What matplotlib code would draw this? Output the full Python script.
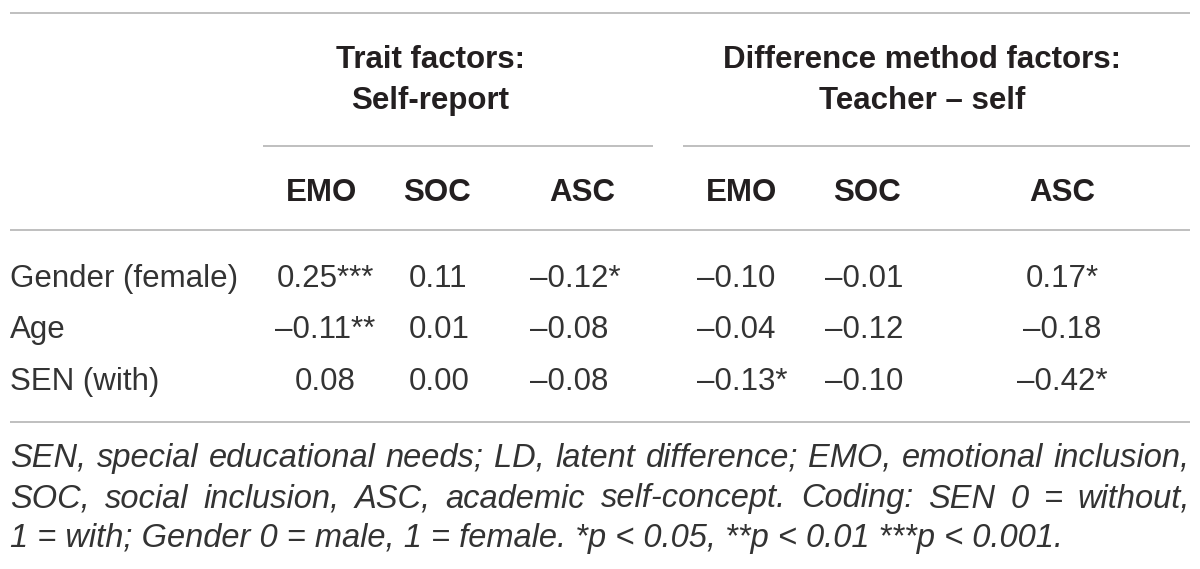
import matplotlib.pyplot as plt

# table content
groups = ["Trait factors:\nSelf-report", "Difference method factors:\nTeacher \u2013 self"]
columns = ["EMO", "SOC", "ASC", "EMO", "SOC", "ASC"]
rows = ["Gender (female)", "Age", "SEN (with)"]
values = [
    [0.25, 0.11, -0.12, -0.10, -0.01, 0.17],
    [-0.11, 0.01, -0.08, -0.04, -0.12, -0.18],
    [0.08, 0.00, -0.08, -0.13, -0.10, -0.42],
]
stars = [
    ["***", "", "*", "", "", "*"],
    ["**", "", "", "", "", ""],
    ["", "", "", "*", "", "*"],
]
footnote = [
    "SEN, special educational needs; LD, latent difference; EMO, emotional inclusion,",
    "SOC, social inclusion, ASC, academic self-concept. Coding: SEN 0 = without,",
    "1 = with; Gender 0 = male, 1 = female. *p < 0.05, **p < 0.01 ***p < 0.001.",
]

# layout (pixel space)
W, H = 1200, 569
left, right = 10, 1190
group_x = [430, 922]
group_span = [(263, 653), (683, 1190)]
head_x = [322, 437, 582, 742, 867, 1062]
col_x = [325, 409, 530, 697, 825, 1062]
col_ha = ["center", "left", "left", "left", "left", "center"]
row_y = [279, 330, 382]
foot_y = [458, 499, 539]

txt = "#231f20"
body = "#333333"
rule = "#b4b4b4"
fs = 22.5
plt.rcParams['font.family'] = ['Liberation Sans', 'DejaVu Sans']

fig = plt.figure(figsize=(12, 5.69), dpi=100)
ax = fig.add_axes([0, 0, 1, 1])
ax.set_xlim(0, W)
ax.set_ylim(H, 0)
ax.axis('off')

# rules
for y in [13, 230, 422]:
    ax.plot([left, right], [y, y], color=rule, lw=1.2, solid_capstyle='butt')
for x0, x1 in group_span:
    ax.plot([x0, x1], [146, 146], color=rule, lw=1.2, solid_capstyle='butt')

# group headers
for gx, g in zip(group_x, groups):
    l1, l2 = g.split("\n")
    ax.text(gx, 60, l1, ha='center', va='center', fontsize=fs, fontweight='bold', color=txt)
    ax.text(gx, 101, l2, ha='center', va='center', fontsize=fs, fontweight='bold', color=txt)

for hx, c in zip(head_x, columns):
    ax.text(hx, 193, c, ha='center', va='center', fontsize=fs, fontweight='bold', color=txt)

# body
def fmt(v, s):
    t = "%.2f" % abs(v)
    if v < 0:
        t = "\u2013" + t
    return t + s

for i, r in enumerate(rows):
    ax.text(left, row_y[i], r, ha='left', va='center', fontsize=fs, color=body)
    for j in range(len(columns)):
        ax.text(col_x[j], row_y[i], fmt(values[i][j], stars[i][j]), ha=col_ha[j],
                va='center', fontsize=fs, color=body)

# footnote, first lines justified
ffs = 23.5
fig.canvas.draw()
renderer = fig.canvas.get_renderer()
inv = ax.transData.inverted()

def width_px(t):
    bb = t.get_window_extent(renderer)
    p0 = inv.transform((bb.x0, bb.y0))
    p1 = inv.transform((bb.x1, bb.y0))
    return p1[0] - p0[0]

for k, line in enumerate(footnote):
    if k < len(footnote) - 1:
        words = line.split(" ")
        items = [ax.text(0, foot_y[k], w, ha='left', va='center', fontsize=ffs,
                         style='italic', color=body) for w in words]
        ws = [width_px(t) for t in items]
        gap = (right - left - sum(ws)) / (len(words) - 1)
        x = left
        for t, w in zip(items, ws):
            t.set_x(x)
            x += w + gap
    else:
        ax.text(left, foot_y[k], line, ha='left', va='center', fontsize=ffs,
                style='italic', color=body)

fig.savefig('out.png', dpi=100)
